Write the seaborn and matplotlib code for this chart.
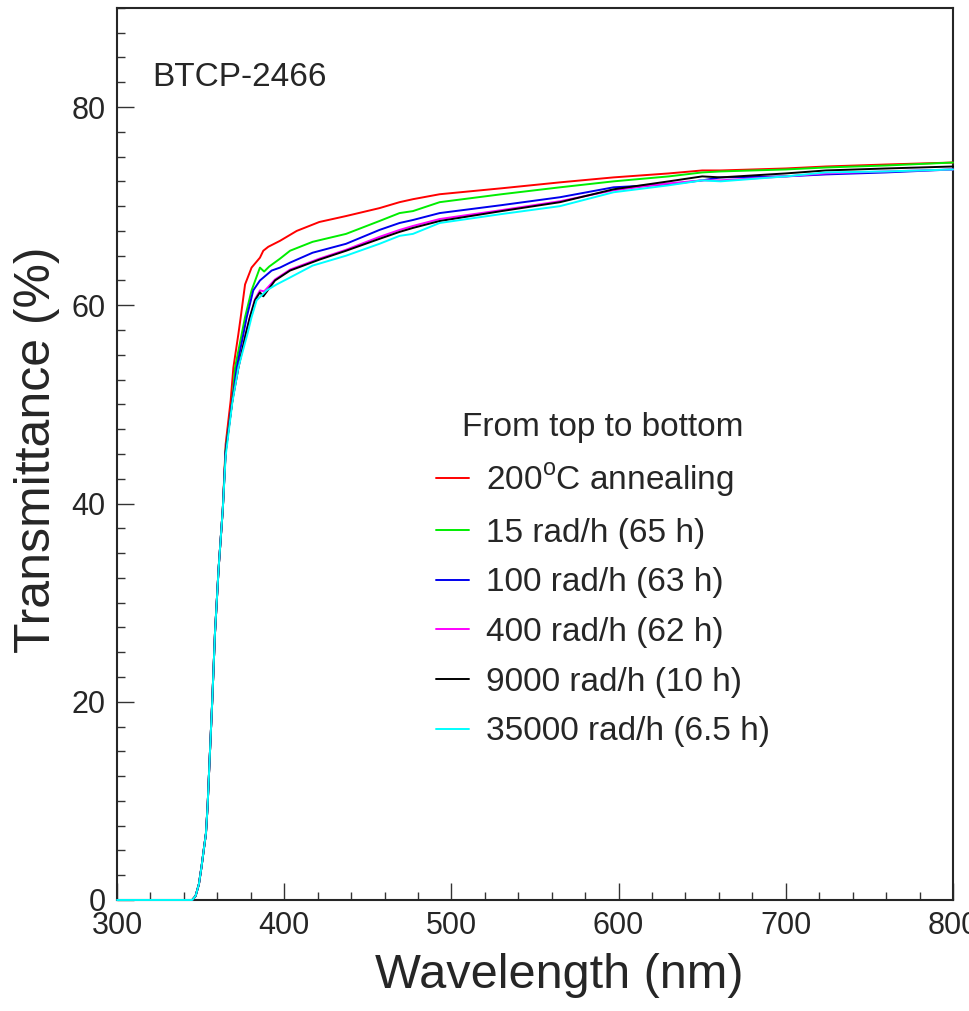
import pandas as pd
import matplotlib
matplotlib.use("Agg")
import matplotlib.pyplot as plt
from matplotlib.ticker import MultipleLocator
import seaborn as sns

# shared absorption edge (all samples overlap here)
base_wl = [300, 345, 347, 349, 350.6, 352, 353.2, 354.2, 355.2, 357, 358.6, 360.8, 363.3]
base_T = [0, 0, 0.4, 1.6, 3.4, 5.2, 6.7, 9.5, 13.4, 20.2, 26.9, 33.5, 39.5]

red_wl = [365, 368, 369.6, 372.6, 374, 376.6, 380.5, 385.5, 387.5, 390.5, 397.5, 407.5, 421, 437,
          457, 469, 477, 493, 530, 565, 597, 630, 650, 661, 700, 724, 760, 800]
red_T = [46, 50.4, 53.7, 57.1, 58.8, 62.1, 63.8, 64.8, 65.5, 65.9, 66.5, 67.5, 68.4, 69.0,
         69.8, 70.4, 70.7, 71.2, 71.8, 72.4, 72.9, 73.3, 73.6, 73.6, 73.8, 74.0, 74.2, 74.4]

green_wl = [365, 369, 370.6, 374.6, 376.6, 380.5, 385.5, 388, 391, 397.5, 403.5, 417, 437, 457,
            469, 477, 493, 530, 565, 597, 630, 650, 661, 700, 724, 760, 800]
green_T = [45.5, 50.4, 53.7, 57.1, 58.8, 61.5, 63.8, 63.4, 63.9, 64.7, 65.5, 66.4, 67.2, 68.5,
           69.3, 69.5, 70.4, 71.2, 71.9, 72.5, 73.0, 73.4, 73.5, 73.7, 73.9, 74.1, 74.4]

blue_wl = [365, 369, 371.6, 375.6, 377.6, 381.5, 385.5, 392.5, 397.5, 403.5, 417, 437, 457, 469,
           477, 493, 530, 565, 597, 630, 650, 661, 700, 724, 760, 800]
blue_T = [45.3, 50.4, 53.7, 57.1, 58.8, 61.5, 62.5, 63.5, 63.8, 64.3, 65.3, 66.2, 67.6, 68.3,
          68.6, 69.3, 70.1, 70.9, 71.9, 72.2, 72.6, 72.9, 73.0, 73.2, 73.4, 73.7]

magenta_wl = [365, 369, 372.6, 377, 379.5, 382.5, 385.5, 388, 394.5, 403.5, 421, 437, 457, 469,
              477, 493, 530, 565, 597, 630, 650, 661, 700, 724, 760, 800]
magenta_T = [45.2, 50.4, 53.7, 57.1, 58.8, 60.6, 61.5, 61.4, 62.6, 63.6, 64.7, 65.6, 66.9, 67.6,
             68.0, 68.7, 69.6, 70.5, 71.6, 72.3, 72.6, 72.6, 73.0, 73.3, 73.5, 73.7]

black_wl = [365, 369, 372.6, 377, 379.5, 382.5, 385.5, 387.5, 394.5, 403.5, 421, 437, 457, 469,
            477, 493, 530, 565, 597, 630, 650, 661, 700, 724, 760, 800]
black_T = [45.2, 50.4, 53.7, 57.1, 58.8, 60.5, 61.3, 60.9, 62.5, 63.5, 64.6, 65.5, 66.7, 67.4,
           67.8, 68.5, 69.5, 70.4, 71.7, 72.5, 73.0, 72.9, 73.3, 73.6, 73.8, 74.0]

cyan_wl = [365, 369, 372.6, 378, 380.5, 383.5, 389.5, 395.5, 403.5, 417, 437, 457, 469, 477,
           493, 530, 565, 597, 630, 650, 661, 700, 724, 760, 800]
cyan_T = [44.8, 50.2, 53.7, 57.1, 58.8, 60.5, 61.5, 62.1, 62.8, 64.0, 65.0, 66.2, 67.0, 67.2,
          68.3, 69.2, 70.0, 71.4, 72.1, 72.6, 72.5, 73.0, 73.4, 73.5, 73.7]

labels = ["200$^{\\mathrm{o}}$C annealing", "15 rad/h (65 h)", "100 rad/h (63 h)",
          "400 rad/h (62 h)", "9000 rad/h (10 h)", "35000 rad/h (6.5 h)"]
colors = ["#ff0000", "#00ee00", "#0000ee", "#ff00ff", "#000000", "#00ffff"]
tails = [(red_wl, red_T), (green_wl, green_T), (blue_wl, blue_T),
         (magenta_wl, magenta_T), (black_wl, black_T), (cyan_wl, cyan_T)]

frames = []
for name, (wl, tr) in zip(labels, tails):
    frames.append(pd.DataFrame({"wl": base_wl + wl, "T": base_T + tr, "sample": name}))
df = pd.concat(frames, ignore_index=True)

sns.set_style("ticks")
plt.rcParams["font.family"] = ["Liberation Sans", "DejaVu Sans"]
plt.rcParams["mathtext.fontset"] = "custom"
plt.rcParams["mathtext.rm"] = "Liberation Sans"

fig = plt.figure(figsize=(9.7, 10.11), dpi=100)
ax = fig.add_axes([0.1206, 0.1098, 0.8619, 0.8824])

sns.lineplot(data=df, x="wl", y="T", hue="sample", palette=colors, hue_order=labels,
             estimator=None, sort=False, linewidth=1.4, ax=ax)
for line in ax.get_lines():
    line.set_clip_on(False)
    line.set_zorder(3)

ax.set_xlim(300, 800)
ax.set_ylim(0, 90)
ax.xaxis.set_major_locator(MultipleLocator(100))
ax.xaxis.set_minor_locator(MultipleLocator(20))
ax.yaxis.set_minor_locator(MultipleLocator(2.5))
ax.set_yticks([0, 20, 40, 60, 80])
ax.tick_params(which="both", direction="in", top=False, right=False, color="#333333")
ax.tick_params(which="major", length=12, width=1, labelsize=22, pad=8)
ax.tick_params(which="minor", length=6, width=1)
for s in ax.spines.values():
    s.set_linewidth(1.5)
    s.set_visible(True)
    s.set_zorder(2)

ax.set_xlabel("Wavelength (nm)", fontsize=35)
ax.set_ylabel("Transmittance (%)", fontsize=36)
ax.xaxis.set_label_coords(0.529, -0.059)
ax.yaxis.set_label_coords(-0.068, 0.5045)

ax.text(0.042, 0.912, "BTCP-2466", transform=ax.transAxes, fontsize=24, va="baseline")

leg = ax.legend(title="From top to bottom", loc="upper left", bbox_to_anchor=(0.3816, 0.5475),
                frameon=False, fontsize=24, title_fontsize=24, handlelength=1.0,
                handletextpad=0.5, labelspacing=0.56, borderpad=0, borderaxespad=0)
for line in leg.get_lines():
    line.set_linewidth(1.4)

fig.savefig("out.png", dpi=100)
